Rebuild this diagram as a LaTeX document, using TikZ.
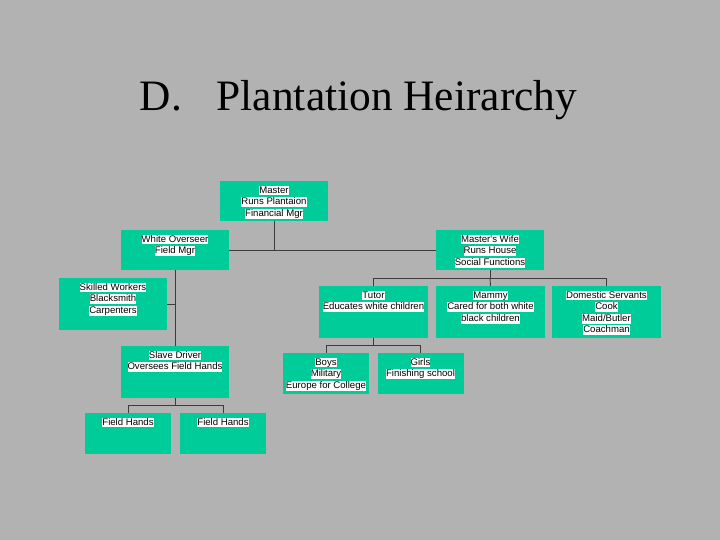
\documentclass[tikz,border=0pt]{standalone}
\usepackage{fontspec}
\setmainfont{Liberation Serif}
\newfontfamily\boxfont{Liberation Sans}
\definecolor{bggray}{RGB}{178,178,178}
\definecolor{boxgreen}{RGB}{0,204,153}
\definecolor{linegray}{RGB}{60,60,60}
\newcommand{\hl}[1]{{\setlength{\fboxsep}{0pt}\colorbox{white}{\rule[-2.2pt]{0pt}{9.8pt}#1}}}
\tikzset{
  box/.style={fill=boxgreen, draw=none, inner sep=0pt},
  txt/.style={anchor=north, align=center, inner sep=0pt, font=\boxfont\fontsize{9.6}{11.6}\selectfont},
  conn/.style={draw=linegray, line width=0.9pt},
}
\begin{document}
\begin{tikzpicture}[x=1pt,y=-1pt]
\fill[bggray] (0,0) rectangle (720,540);
\useasboundingbox (0,0) rectangle (720,540);
\node[font=\fontsize{43.4}{48}\selectfont, inner sep=0pt] (title) at (358.5,100) {D.\hspace{0.8em}Plantation Heirarchy};
% boxes
\node[box, minimum width=108, minimum height=40] (master) at (274,201) {};
\node[box, minimum width=108, minimum height=40] (overseer) at (175,250) {};
\node[box, minimum width=108, minimum height=40] (wife) at (490,250) {};
\node[box, minimum width=108, minimum height=52] (skilled) at (113,304) {};
\node[box, minimum width=108, minimum height=52] (slave) at (175,372) {};
\node[box, minimum width=86, minimum height=41] (fh1) at (128,433.5) {};
\node[box, minimum width=86, minimum height=41] (fh2) at (223,433.5) {};
\node[box, minimum width=109, minimum height=52] (tutor) at (373.5,312) {};
\node[box, minimum width=109, minimum height=52] (mammy) at (490.5,312) {};
\node[box, minimum width=109, minimum height=52] (dom) at (606.5,312) {};
\node[box, minimum width=86, minimum height=41] (boys) at (326,373.5) {};
\node[box, minimum width=86, minimum height=41] (girls) at (420.5,373.5) {};
% texts
\node[txt] (masterT) at ([yshift=-4.5pt]master.north) {\hl{Master}\\\hl{Runs Plantaion}\\\hl{Financial Mgr}};
\node[txt] (overseerT) at ([yshift=-4.5pt]overseer.north) {\hl{White Overseer}\\\hl{Field Mgr}};
\node[txt] (wifeT) at ([yshift=-4.5pt]wife.north) {\hl{Master's Wife}\\\hl{Runs House}\\\hl{Social Functions}};
\node[txt] (skilledT) at ([yshift=-4.5pt]skilled.north) {\hl{Skilled Workers}\\\hl{Blacksmith}\\\hl{Carpenters}};
\node[txt] (slaveT) at ([yshift=-4.5pt]slave.north) {\hl{Slave Driver}\\\hl{Oversees Field Hands}};
\node[txt] (fh1T) at ([yshift=-4.5pt]fh1.north) {\hl{Field Hands}};
\node[txt] (fh2T) at ([yshift=-4.5pt]fh2.north) {\hl{Field Hands}};
\node[txt] (tutorT) at ([yshift=-4.5pt]tutor.north) {\hl{Tutor}\\\hl{Educates white children}};
\node[txt] (mammyT) at ([yshift=-4.5pt]mammy.north) {\hl{Mammy}\\\hl{Cared for both white}\\\hl{black children}};
\node[txt] (domT) at ([yshift=-4.5pt]dom.north) {\hl{Domestic Servants}\\\hl{Cook}\\\hl{Maid/Butler}\\\hl{Coachman}};
\node[txt] (boysT) at ([yshift=-4.5pt]boys.north) {\hl{Boys}\\\hl{Military}\\\hl{Europe for College}};
\node[txt] (girlsT) at ([yshift=-4.5pt]girls.north) {\hl{Girls}\\\hl{Finishing school}};
% connectors
\draw[conn] (master.south) -- (master.south |- overseer.east);
\draw[conn] (overseer.east) -- (wife.west);
\draw[conn] (overseer.south) -- (slave.north);
\draw[conn] (skilled.east) -- (overseer.south |- skilled.east);
\draw[conn] (wife.south) -- ++(0,8) coordinate (wj);
\draw[conn] (tutor.north) |- (wj) -| (dom.north);
\draw[conn] (wj) -- (mammy.north);
\draw[conn] (tutor.south) -- ++(0,7.5) coordinate (tj);
\draw[conn] (boys.north) |- (tj) -| (girls.north);
\draw[conn] (slave.south) -- ++(0,7.5) coordinate (sj);
\draw[conn] (fh1.north) |- (sj) -| (fh2.north);
\end{tikzpicture}
\end{document}
